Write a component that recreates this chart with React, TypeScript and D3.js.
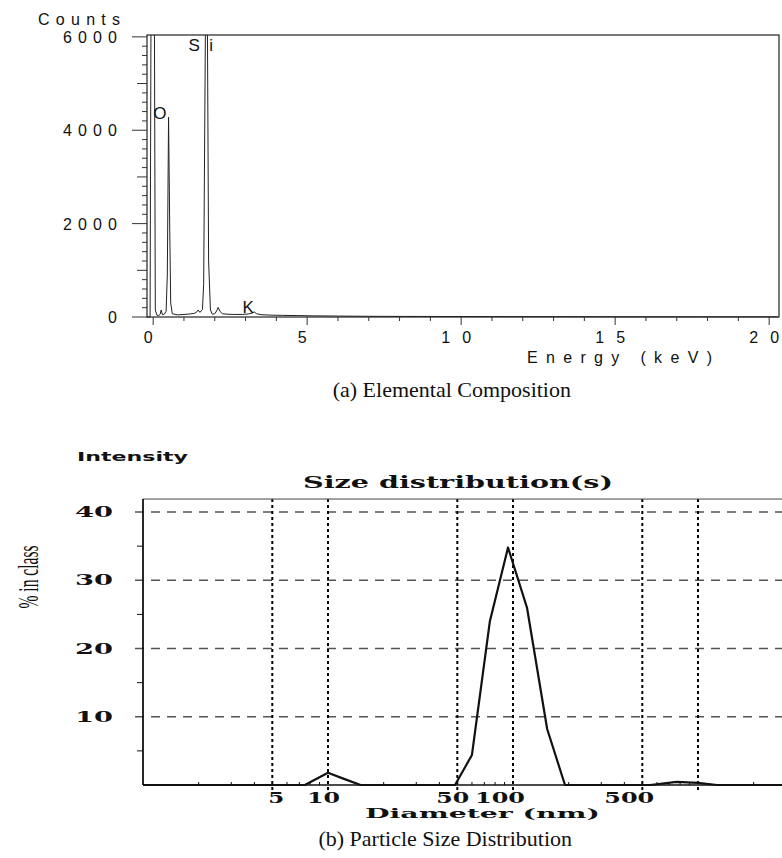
import { useEffect, useRef } from 'react';
import * as d3 from 'd3';

// (a) EDX spectrum
const spectrumEnergy = [
  -0.2, -0.1, -0.07, 0.04, 0.07, 0.12, 0.18, 0.23, 0.26, 0.3, 0.36, 0.42, 0.46, 0.5, 0.54, 0.57,
  0.62, 0.8, 1.0, 1.2, 1.35, 1.42, 1.46, 1.52, 1.6, 1.64, 1.7, 1.76, 1.8, 1.86, 1.92, 2.0, 2.06,
  2.11, 2.17, 2.25, 2.4, 2.6, 2.9, 3.1, 3.22, 3.28, 3.36, 3.5, 3.8, 4.2, 4.7, 5.2, 6.0, 7.0, 8.5,
  10.0, 12.0, 14.0, 17.0, 20.3,
];
const spectrumCounts = [
  0, 0, 6500, 6500, 150, 40, 30, 60, 150, 50, 60, 120, 900, 4280, 1800, 300,
  70, 45, 55, 65, 80, 110, 150, 100, 160, 700, 6500, 6500, 1200, 150, 60, 70, 130,
  205, 120, 70, 60, 55, 55, 65, 85, 110, 70, 50, 40, 35, 30, 25, 20, 15, 12,
  10, 8, 6, 4, 3,
];
const peakLabels = [
  { text: 'O', energy: 0.0, counts: 4250 },
  { text: 'S', energy: 1.15, counts: 5700 },
  { text: 'i', energy: 1.82, counts: 5700 },
  { text: 'K', energy: 2.9, counts: 95 },
];
const countTicks = [0, 2000, 4000, 6000];
const energyTicks = [0, 5, 10, 15, 20];

// (b) particle size distribution
const psdDiameter = [1, 7.5, 10, 12.2, 15, 48.6, 60, 75, 79, 94, 119, 153, 191, 551, 769, 1000, 1268, 5000];
const psdPercent = [0, 0, 1.8, 0.9, 0, 0, 4.4, 24, 26.5, 34.8, 26, 8.2, 0, 0, 0.45, 0.3, 0, 0];
const percentTicks = [10, 20, 30, 40];
const percentMinor = [5, 15, 25, 35];
const diameterGrid = [5, 10, 50, 100, 500, 1000];
const diameterLabels = [5, 10, 50, 100, 500];

const SANS = 'Liberation Sans, Arial, sans-serif';
const SERIF = 'Liberation Serif, Times New Roman, serif';
const WIDE = 'DejaVu Serif, serif';

const App = () => {
  const ref = useRef<SVGSVGElement>(null);

  useEffect(() => {
    if (!ref.current) return;
    const svg = d3.select(ref.current);
    svg.selectAll('*').remove();

    // ---------- (a) Elemental Composition ----------
    const xA = d3.scaleLinear().domain([-0.2, 20.32]).range([147, 779]);
    const yA = d3.scaleLinear().domain([0, 6040]).range([317, 35]);
    const gA = svg.append('g');

    gA.append('clipPath').attr('id', 'clipA')
      .append('rect').attr('x', 147).attr('y', 35).attr('width', 632).attr('height', 283);

    const line = d3.line<number>()
      .x((_, i) => xA(spectrumEnergy[i]))
      .y((d) => yA(d));
    gA.append('path')
      .attr('d', line(spectrumCounts))
      .attr('fill', 'none')
      .attr('stroke', '#222')
      .attr('stroke-width', 1)
      .attr('clip-path', 'url(#clipA)');

    // frame
    gA.append('rect')
      .attr('x', xA(-0.2)).attr('y', yA(6040))
      .attr('width', xA(20.32) - xA(-0.2)).attr('height', yA(0) - yA(6040))
      .attr('fill', 'none').attr('stroke', '#222').attr('stroke-width', 1.2);

    // y ticks every 200
    d3.range(0, 6001, 200).forEach((v) => {
      const len = v % 2000 === 0 ? 15 : v % 1000 === 0 ? 10 : 5;
      gA.append('line')
        .attr('x1', xA(-0.2) - len).attr('x2', xA(-0.2))
        .attr('y1', yA(v)).attr('y2', yA(v))
        .attr('stroke', '#333').attr('stroke-width', 1);
    });
    countTicks.forEach((v) => {
      const t = gA.append('text')
        .attr('x', 117).attr('y', yA(v) + 6)
        .attr('text-anchor', 'end')
        .attr('font-family', SANS).attr('font-size', 16)
        .attr('fill', '#111')
        .text(v);
      if (String(v).length > 1) t.attr('textLength', 54).attr('lengthAdjust', 'spacing');
    });

    // x ticks every 1 keV
    d3.range(0, 21, 1).forEach((v) => {
      const len = v % 5 === 0 ? 8 : 4;
      gA.append('line')
        .attr('x1', xA(v)).attr('x2', xA(v))
        .attr('y1', yA(0)).attr('y2', yA(0) + len)
        .attr('stroke', '#333').attr('stroke-width', 1);
    });
    energyTicks.forEach((v) => {
      const t = gA.append('text')
        .attr('x', xA(v) - 5).attr('y', 343)
        .attr('text-anchor', 'middle')
        .attr('font-family', SANS).attr('font-size', 16)
        .attr('fill', '#111')
        .text(v);
      if (String(v).length > 1) t.attr('textLength', 30).attr('lengthAdjust', 'spacing');
    });

    peakLabels.forEach((p) => {
      gA.append('text')
        .attr('x', xA(p.energy))
        .attr('y', yA(p.counts))
        .attr('font-family', SANS).attr('font-size', 17)
        .attr('fill', '#111')
        .text(p.text);
    });

    gA.append('text')
      .attr('x', 38).attr('y', 25)
      .attr('font-family', SANS).attr('font-size', 16)
      .attr('textLength', 82).attr('lengthAdjust', 'spacing')
      .attr('fill', '#111')
      .text('Counts');
    gA.append('text')
      .attr('x', 527).attr('y', 363)
      .attr('font-family', SANS).attr('font-size', 16)
      .attr('textLength', 185).attr('lengthAdjust', 'spacing')
      .attr('fill', '#111')
      .text('Energy (keV)');
    gA.append('text')
      .attr('x', 571).attr('y', 397)
      .attr('text-anchor', 'end')
      .attr('font-family', SERIF).attr('font-size', 22)
      .attr('fill', '#111')
      .text('(a) Elemental Composition');

    // ---------- (b) Particle Size Distribution ----------
    const xB = d3.scaleLog().domain([1, 5000]).range([143, 143 + 185 * Math.log10(5000)]);
    const yB = d3.scaleLinear().domain([0, 40]).range([785, 512]);
    const gB = svg.append('g');
    const top = yB(41.9);

    // dashed horizontal grid
    percentTicks.forEach((v) => {
      gB.append('line')
        .attr('x1', 135).attr('x2', 782)
        .attr('y1', yB(v)).attr('y2', yB(v))
        .attr('stroke', '#555').attr('stroke-width', 1.5)
        .attr('stroke-dasharray', '9 7');
    });
    // dotted vertical grid
    diameterGrid.forEach((v) => {
      gB.append('line')
        .attr('x1', xB(v)).attr('x2', xB(v))
        .attr('y1', top).attr('y2', yB(0) + 5)
        .attr('stroke', '#000').attr('stroke-width', 2)
        .attr('stroke-dasharray', '3 3');
    });

    // frame
    gB.append('line').attr('x1', xB(1)).attr('x2', 782).attr('y1', top).attr('y2', top)
      .attr('stroke', '#444').attr('stroke-width', 1);
    gB.append('line').attr('x1', xB(1)).attr('x2', 782).attr('y1', yB(0)).attr('y2', yB(0))
      .attr('stroke', '#111').attr('stroke-width', 1.5);
    gB.append('line').attr('x1', xB(1)).attr('x2', xB(1)).attr('y1', top).attr('y2', yB(0))
      .attr('stroke', '#111').attr('stroke-width', 1.8);

    percentMinor.forEach((v) => {
      gB.append('line')
        .attr('x1', xB(1) - 6).attr('x2', xB(1))
        .attr('y1', yB(v)).attr('y2', yB(v))
        .attr('stroke', '#111').attr('stroke-width', 1);
    });
    [1, 10, 100, 1000].forEach((dec) => {
      d3.range(2, 10).forEach((k) => {
        const v = dec * k;
        if (v > 5000) return;
        gB.append('line')
          .attr('x1', xB(v)).attr('x2', xB(v))
          .attr('y1', yB(0)).attr('y2', yB(0) - 3)
          .attr('stroke', '#111').attr('stroke-width', 1);
      });
    });

    const lineB = d3.line<number>()
      .x((_, i) => xB(psdDiameter[i]))
      .y((d) => yB(d));
    gB.append('path')
      .attr('d', lineB(psdPercent))
      .attr('fill', 'none')
      .attr('stroke', '#111')
      .attr('stroke-width', 2.2)
      .attr('stroke-linejoin', 'round');

    percentTicks.forEach((v) => {
      gB.append('text')
        .attr('x', 113).attr('y', yB(v) + 5)
        .attr('text-anchor', 'end')
        .attr('font-family', WIDE).attr('font-weight', 'bold').attr('font-size', 14)
        .attr('textLength', 38).attr('lengthAdjust', 'spacingAndGlyphs')
        .attr('fill', '#111')
        .text(v);
    });
    // labels sit a little left of their gridline, right edge just past it
    diameterLabels.forEach((v) => {
      const s = String(v);
      gB.append('text')
        .attr('x', xB(v) + 12).attr('y', 803)
        .attr('text-anchor', 'end')
        .attr('font-family', WIDE).attr('font-weight', 'bold').attr('font-size', 14)
        .attr('textLength', s.length * 17 - 1).attr('lengthAdjust', 'spacingAndGlyphs')
        .attr('fill', '#111')
        .text(s);
    });

    gB.append('text')
      .attr('x', 303).attr('y', 488)
      .attr('font-family', WIDE).attr('font-weight', 'bold').attr('font-size', 16)
      .attr('textLength', 310).attr('lengthAdjust', 'spacingAndGlyphs')
      .attr('fill', '#111')
      .text('Size distribution(s)');
    gB.append('text')
      .attr('x', 365).attr('y', 818)
      .attr('font-family', WIDE).attr('font-weight', 'bold').attr('font-size', 13)
      .attr('textLength', 235).attr('lengthAdjust', 'spacingAndGlyphs')
      .attr('fill', '#111')
      .text('Diameter (nm)');
    gB.append('text')
      .attr('x', 77).attr('y', 461)
      .attr('font-family', 'DejaVu Sans, sans-serif').attr('font-weight', 'bold').attr('font-size', 12)
      .attr('textLength', 111).attr('lengthAdjust', 'spacingAndGlyphs')
      .attr('fill', '#111')
      .text('Intensity');
    gB.append('text')
      .attr('transform', 'translate(38,577) rotate(-90)')
      .attr('text-anchor', 'middle')
      .attr('font-family', SERIF).attr('font-size', 30)
      .attr('textLength', 63).attr('lengthAdjust', 'spacingAndGlyphs')
      .attr('fill', '#111')
      .text('% in class');
    gB.append('text')
      .attr('x', 572).attr('y', 846)
      .attr('text-anchor', 'end')
      .attr('font-family', SERIF).attr('font-size', 22)
      .attr('fill', '#111')
      .text('(b) Particle Size Distribution');
  }, []);

  return (
    <svg
      ref={ref}
      width={782}
      height={858}
      style={{ position: 'absolute', left: 0, top: 0, background: '#fff' }}
    />
  );
};

export default App;
